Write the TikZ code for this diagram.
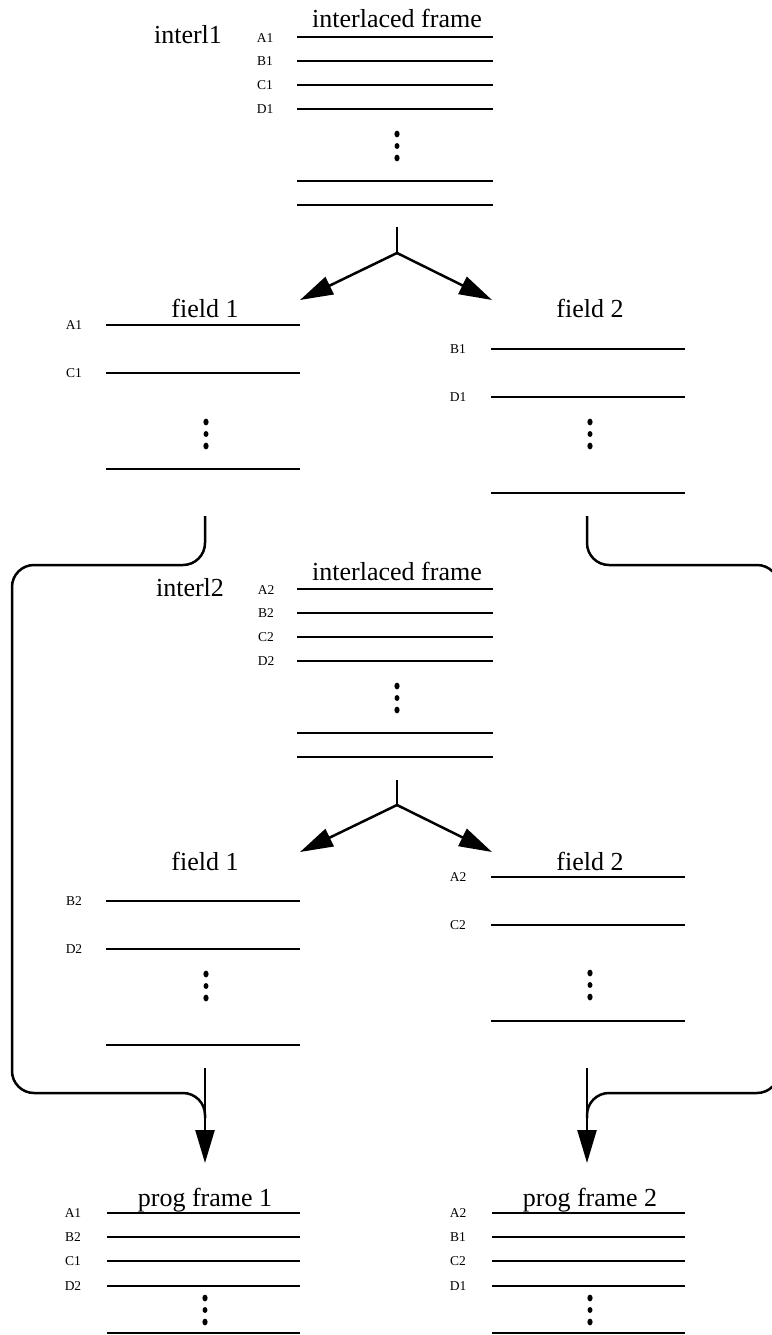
\documentclass[tikz,border=0pt]{standalone}
\usepackage{fontspec}
\setmainfont{Liberation Serif}
\usetikzlibrary{arrows.meta}
\newcommand\mydots[2]{%
  \fill (#1,#2-12) ellipse [x radius=2.6pt,y radius=3.4pt];
  \fill (#1,#2) ellipse [x radius=2.5pt,y radius=2.9pt];
  \fill (#1,#2+12) ellipse [x radius=2.6pt,y radius=3.4pt];}
\newcommand\hln[3]{\draw[ln] (#1,#3) -- (#2,#3);}
\begin{document}
\begin{tikzpicture}[x=1pt,y=-1pt,
  ln/.style={line width=2.8pt},
  big/.style={font=\fontsize{26}{30}\selectfont, inner sep=0pt, anchor=base},
  sm/.style={font=\fontsize{13.5}{15}\selectfont, inner sep=0pt},
  con/.style={line width=2.5pt, rounded corners=22pt},
  conline/.style={line width=2.5pt},
  arr/.style={line width=2.5pt, -{Triangle[length=33pt,width=19pt]}}]
\useasboundingbox (0,0) rectangle (771,1335);
\fill[white] (0,0) rectangle (771,1335);

% ---------- interl1 ----------
\node[big] (t1) at (397,28) {interlaced frame};
\node[big] (i1) at (188,44) {interl1};
\foreach \y in {37,61,85,109,181,205} {\hln{297}{493}{\y}}
\node[sm] (t1a) at (265,38) {A1};
\node[sm] (t1b) at (265,61) {B1};
\node[sm] (t1c) at (265,85) {C1};
\node[sm] (t1d) at (265,109) {D1};
\mydots{397}{146}

% split 1
\coordinate (s1top) at (397,227);
\coordinate (s1j) at (397,253);
\coordinate (s1l) at (300,300);
\coordinate (s1r) at (492,300);
\draw[conline] (s1top) -- (s1j);
\draw[arr] (s1j) -- (s1l);
\draw[arr] (s1j) -- (s1r);

% ---------- field 1 (top) ----------
\node[big] (f1a) at (205,317) {field 1};
\foreach \y in {325,373,469} {\hln{106}{300}{\y}}
\node[sm] (f1aA) at (74,325) {A1};
\node[sm] (f1aC) at (74,373) {C1};
\mydots{206}{434}

% ---------- field 2 (top) ----------
\node[big] (f2a) at (590,317) {field 2};
\foreach \y in {349,397,493} {\hln{491}{685}{\y}}
\node[sm] (f2aB) at (458,349) {B1};
\node[sm] (f2aD) at (458,397) {D1};
\mydots{590}{434}

% connectors around
\coordinate (f1out) at (205,516);
\coordinate (f2out) at (587,516);
\coordinate (p1in) at (205,1118);
\coordinate (p2in) at (587,1118);
\draw[con] (f1out) -- (205,565) -- (12,565) -- (12,1093) -- (205,1093) -- (p1in);
\draw[con] (f2out) -- (587,565) -- (779,565) -- (779,1093) -- (587,1093) -- (p2in);

% ---------- interl2 ----------
\node[big] (t2) at (397,580) {interlaced frame};
\node[big] (i2) at (190,596) {interl2};
\foreach \y in {589,613,637,661,733,757} {\hln{297}{493}{\y}}
\node[sm] (t2a) at (266,590) {A2};
\node[sm] (t2b) at (266,613) {B2};
\node[sm] (t2c) at (266,637) {C2};
\node[sm] (t2d) at (266,661) {D2};
\mydots{397}{698}

% split 2
\coordinate (s2top) at (397,780);
\coordinate (s2j) at (397,805);
\coordinate (s2l) at (300,852);
\coordinate (s2r) at (492,852);
\draw[conline] (s2top) -- (s2j);
\draw[arr] (s2j) -- (s2l);
\draw[arr] (s2j) -- (s2r);

% ---------- field 1 (bottom) ----------
\node[big] (f1b) at (205,870) {field 1};
\foreach \y in {901,949,1045} {\hln{106}{300}{\y}}
\node[sm] (f1bB) at (74,901) {B2};
\node[sm] (f1bD) at (74,949) {D2};
\mydots{206}{986}

% ---------- field 2 (bottom) ----------
\node[big] (f2b) at (590,870) {field 2};
\foreach \y in {877,925,1021} {\hln{491}{685}{\y}}
\node[sm] (f2bA) at (458,877) {A2};
\node[sm] (f2bC) at (458,925) {C2};
\mydots{590}{985}

% arrows down
\coordinate (a1s) at (205,1068);
\coordinate (a1e) at (205,1163);
\coordinate (a2s) at (587,1068);
\coordinate (a2e) at (587,1163);
\draw[arr] (a1s) -- (a1e);
\draw[arr] (a2s) -- (a2e);

% ---------- prog frame 1 ----------
\node[big] (pf1) at (205,1206) {prog frame 1};
\foreach \y in {1213,1237,1261,1286,1333} {\hln{107}{300}{\y}}
\node[sm] (pf1a) at (73,1213) {A1};
\node[sm] (pf1b) at (73,1237) {B2};
\node[sm] (pf1c) at (73,1261) {C1};
\node[sm] (pf1d) at (73,1286) {D2};
\mydots{205}{1310}

% ---------- prog frame 2 ----------
\node[big] (pf2) at (590,1206) {prog frame 2};
\foreach \y in {1213,1237,1261,1286,1333} {\hln{492}{685}{\y}}
\node[sm] (pf2a) at (458,1213) {A2};
\node[sm] (pf2b) at (458,1237) {B1};
\node[sm] (pf2c) at (458,1261) {C2};
\node[sm] (pf2d) at (458,1286) {D1};
\mydots{590}{1310}
\end{tikzpicture}
\end{document}
